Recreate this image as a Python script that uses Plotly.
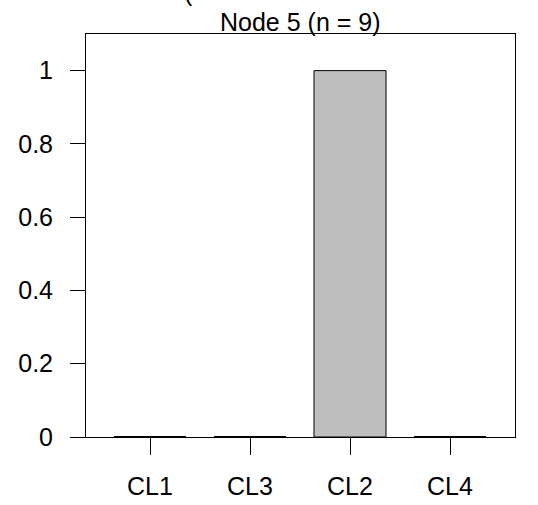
import plotly.graph_objects as go

categories = ["CL1", "CL3", "CL2", "CL4"]
values = [0.0, 0.0, 1.0, 0.0]
ytick_vals = [0, 0.2, 0.4, 0.6, 0.8, 1]
ytick_text = ["0", "0.2", "0.4", "0.6", "0.8", "1"]
title_text = "Node 5 (n = 9)"

bar_width = 0.72
xs = list(range(len(categories)))

fig = go.Figure()
fig.add_trace(go.Bar(
    x=xs, y=values, width=bar_width,
    marker=dict(color="#BEBEBE", line=dict(color="black", width=1)),
    showlegend=False, hoverinfo="skip",
))
# zero-height bars drawn as their outline (flat line)
for xi, v in zip(xs, values):
    if v == 0:
        fig.add_trace(go.Scatter(
            x=[xi - bar_width / 2, xi + bar_width / 2], y=[v, v],
            mode="lines", line=dict(color="black", width=2),
            showlegend=False, hoverinfo="skip",
        ))

font = dict(family="Liberation Sans, Arial, sans-serif", size=25, color="black")

fig.update_layout(
    width=538, height=505,
    margin=dict(l=86, r=23, t=34, b=68, autoexpand=False),
    paper_bgcolor="white", plot_bgcolor="white",
    font=font,
    xaxis=dict(
        range=[-0.64, 3.65], tickmode="array", tickvals=xs, ticktext=categories,
        showgrid=False, zeroline=False, showline=True, linecolor="black", linewidth=1,
        mirror=True, ticks="outside", ticklen=17, tickcolor="black", tickwidth=1,
        ticklabelstandoff=10, tickfont=font, automargin=False,
    ),
    yaxis=dict(
        range=[0, 1.1], tickmode="array", tickvals=ytick_vals, ticktext=ytick_text,
        showgrid=False, zeroline=False, showline=True, linecolor="black", linewidth=1,
        mirror=True, ticks="outside", ticklen=15, tickcolor="black", tickwidth=1,
        ticklabelstandoff=12, tickfont=font, automargin=False,
    ),
    annotations=[
        dict(text=title_text, xref="paper", yref="paper", x=0.5, y=1,
             xanchor="center", yanchor="bottom", yshift=-4, showarrow=False, font=font),
        dict(text="(", xref="paper", yref="paper", x=0.24, y=1, xanchor="center",
             yanchor="bottom", yshift=26, showarrow=False, font=font),
    ],
)
fig.write_html("out.html")
